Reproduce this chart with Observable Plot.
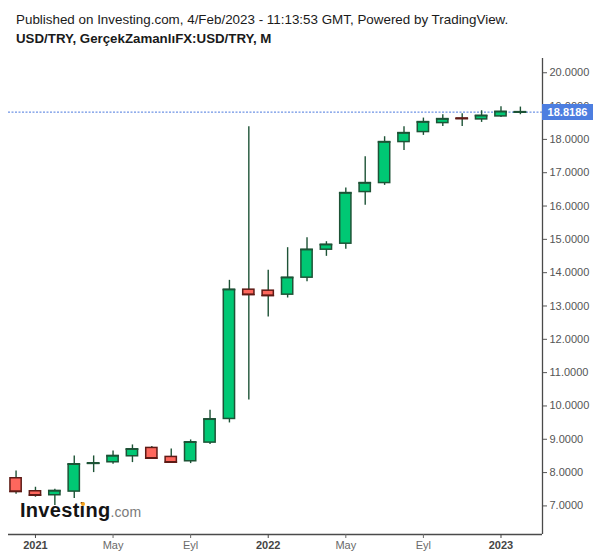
<!DOCTYPE html>
<html><head><meta charset="utf-8">
<script src="https://cdn.jsdelivr.net/npm/d3@7"></script>
<script src="https://cdn.jsdelivr.net/npm/@observablehq/plot@0.6"></script>
<style>
body{margin:0;background:#fff;font-family:"Liberation Sans",Arial,sans-serif;}
#wrap{position:relative;width:600px;height:558px;overflow:hidden;background:#fff;}
#wrap svg{position:absolute;left:0;top:0;}
.hdr1{position:absolute;left:16px;top:12px;font-size:13.4px;line-height:15px;color:#1a1a1a;white-space:nowrap;}
.hdr2{position:absolute;left:16px;top:31px;font-size:13.3px;line-height:15px;font-weight:bold;color:#1a1a1a;white-space:nowrap;}
.logo{position:absolute;left:20px;top:500px;line-height:20px;white-space:nowrap;}
.logo .a{font-size:20px;font-weight:bold;color:#141414;letter-spacing:0.3px;}
.logo .b{font-size:14px;color:#7a7a7a;letter-spacing:0.1px;}
.dot{position:absolute;left:81px;top:501.5px;width:4px;height:4px;border-radius:2px;background:#f7a21b;}
.price{position:absolute;left:542px;width:51px;height:16px;background:#4d7ee0;color:#fff;font-weight:bold;font-size:11px;line-height:16px;text-align:center;}
</style></head><body>
<div id="wrap">
</div>
<script>
// Monthly candles, Dec 2020 – Feb 2023 (Turkish month abbreviations)
const months = ["Ara 2020","Oca 2021","Şub 2021","Mar 2021","Nis 2021","May 2021","Haz 2021","Tem 2021","Ağu 2021","Eyl 2021","Eki 2021","Kas 2021","Ara 2021",
  "Oca 2022","Şub 2022","Mar 2022","Nis 2022","May 2022","Haz 2022","Tem 2022","Ağu 2022","Eyl 2022","Eki 2022","Kas 2022","Ara 2022","Oca 2023","Şub 2023"];
const openV  = [7.83,7.44,7.32,7.43,8.26,8.31,8.49,8.74,8.47,8.34,8.90,9.61,13.49,13.46,13.34,13.85,14.69,14.87,16.42,16.69,17.92,18.22,18.49,18.63,18.60,18.69,18.80];
const highV  = [8.05,7.56,7.50,8.50,8.50,8.65,8.83,8.78,8.71,8.98,9.87,13.77,18.38,14.07,14.75,15.05,14.93,16.54,17.48,18.08,18.38,18.64,18.74,18.77,18.86,18.98,18.97];
const lowV   = [7.35,7.26,7.01,7.22,8.00,8.25,8.30,8.42,8.30,8.27,8.84,9.49,10.18,12.67,13.24,13.73,14.49,14.70,16.02,16.62,17.67,18.12,18.39,18.39,18.51,18.66,18.74];
const closeV = [7.43,7.32,7.45,8.25,8.28,8.50,8.70,8.43,8.31,8.91,9.60,13.49,13.34,13.31,13.85,14.69,14.84,16.39,16.69,17.92,18.19,18.52,18.61,18.62,18.71,18.83,18.8186];
const xTickIdx = [1,5,9,13,17,21,25];
const xTickLabels = ["2021","May","Eyl","2022","May","Eyl","2023"];
const xTickIsYear = [true,false,false,true,false,false,true];
const yTicks = [7,8,9,10,11,12,13,14,15,16,17,18,19,20];
const lastPrice = 18.8186;
const titleLine1 = "Published on Investing.com, 4/Feb/2023 - 11:13:53 GMT, Powered by TradingView.";
const titleLine2 = "USD/TRY, GerçekZamanlıFX:USD/TRY, M";

const data = months.map((m, i) => ({i, m, open: openV[i], high: highV[i], low: lowV[i], close: closeV[i]}));
const up = d => d.close >= d.open;
const GREEN = "#00c874", RED = "#fe675d", GBORDER = "#1d5336", RBORDER = "#5e1b16", WICK = "#1d5336";
const xDom = [-0.39, 27.14], yDom = [6.142, 20.428];
const hw = 0.29;
const labelOf = i => xTickLabels[xTickIdx.indexOf(i)];
const yearTicks = xTickIdx.filter((t, k) => xTickIsYear[k]);
const monthTicks = xTickIdx.filter((t, k) => !xTickIsYear[k]);

const plot = Plot.plot({
  width: 600, height: 558,
  marginTop: 58, marginBottom: 24, marginLeft: 8, marginRight: 58,
  x: {type: "linear", domain: xDom, axis: null, label: null},
  y: {type: "linear", domain: yDom, axis: null, label: null},
  style: {fontFamily: "'Liberation Sans', Arial, sans-serif", fontSize: "11px", background: "transparent", overflow: "visible"},
  marks: [
    Plot.ruleY([lastPrice], {stroke: "#4a78de", strokeDasharray: "2,1.5", strokeWidth: 1}),
    Plot.ruleX(data, {x: "i", y1: "low", y2: "high", stroke: WICK, strokeWidth: 1.4}),
    Plot.rect(data, {x1: d => d.i - hw, x2: d => d.i + hw, y1: "open", y2: "close",
      fill: d => up(d) ? GREEN : RED, stroke: d => up(d) ? GBORDER : RBORDER, strokeWidth: 1.5}),
    Plot.ruleY(data, {y: "close", x1: d => d.i - hw - 0.04, x2: d => d.i + hw + 0.04, stroke: d => up(d) ? GBORDER : RBORDER, strokeWidth: 1.5}),
    Plot.ruleY([yDom[0]], {stroke: "#4a4a4a", strokeWidth: 1.3}),
    Plot.ruleX([xDom[1]], {stroke: "#4a4a4a", strokeWidth: 1.3}),
    Plot.axisY(yTicks, {anchor: "right", label: null, tickFormat: d => d.toFixed(4), tickSize: 4, tickPadding: 3, color: "#555", fontSize: 11}),
    Plot.axisX(yearTicks, {anchor: "bottom", label: null, tickFormat: labelOf, tickSize: 4, tickPadding: 3, color: "#454545", fontWeight: "bold", fontSize: 11}),
    Plot.axisX(monthTicks, {anchor: "bottom", label: null, tickFormat: labelOf, tickSize: 4, tickPadding: 3, color: "#6a6a6a", fontSize: 11})
  ]
});

const wrap = document.getElementById("wrap");
wrap.appendChild(plot);
const h1 = document.createElement("div"); h1.className = "hdr1"; h1.textContent = titleLine1; wrap.appendChild(h1);
const h2 = document.createElement("div"); h2.className = "hdr2"; h2.textContent = titleLine2; wrap.appendChild(h2);
const logo = document.createElement("div"); logo.className = "logo";
logo.innerHTML = '<span class="a">Investing</span><span class="b">.com</span>';
wrap.appendChild(logo);
const dot = document.createElement("div"); dot.className = "dot"; wrap.appendChild(dot);
const py = plot.scale("y").apply(lastPrice);
const price = document.createElement("div"); price.className = "price";
price.style.top = (py - 8) + "px"; price.textContent = lastPrice.toFixed(4);
wrap.appendChild(price);
</script>
</body></html>
